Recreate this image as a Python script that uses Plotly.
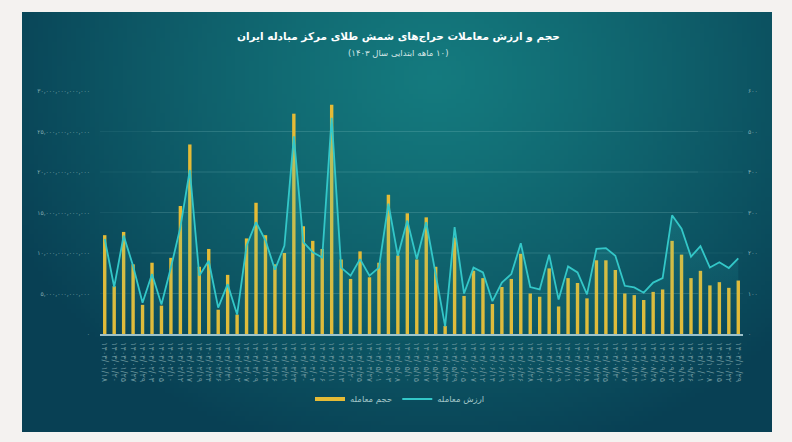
import base64, struct, zlib, math
import plotly.graph_objects as go

# ---------------- data ----------------
dates = [
    "1403/01/18", "1403/01/20", "1403/01/25", "1403/01/27", "1403/01/29",
    "1403/02/03", "1403/02/05", "1403/02/10", "1403/02/12", "1403/02/17",
    "1403/02/19", "1403/02/24", "1403/02/26", "1403/02/31",
    "1403/03/02", "1403/03/07", "1403/03/09", "1403/03/14", "1403/03/16",
    "1403/03/21", "1403/03/23", "1403/03/30",
    "1403/04/04", "1403/04/06", "1403/04/11", "1403/04/13", "1403/04/20",
    "1403/04/25", "1403/04/27",
    "1403/05/01", "1403/05/03", "1403/05/08", "1403/05/10", "1403/05/15",
    "1403/05/17", "1403/05/22", "1403/05/24", "1403/05/29",
    "1403/06/05", "1403/06/07", "1403/06/12", "1403/06/14", "1403/06/19",
    "1403/06/21", "1403/06/26", "1403/06/28",
    "1403/07/02", "1403/07/04", "1403/07/09", "1403/07/11", "1403/07/16",
    "1403/07/18", "1403/07/23", "1403/07/25", "1403/07/30",
    "1403/08/07", "1403/08/14", "1403/08/21", "1403/08/28",
    "1403/09/05", "1403/09/12", "1403/09/19", "1403/09/26",
    "1403/10/01", "1403/10/08", "1403/10/15", "1403/10/22", "1403/10/29",
]

# trading volume (حجم معامله), trillion rial
volume_trillion = [
    12.2, 5.9, 12.6, 8.6, 3.6, 8.8, 3.5, 9.4, 15.8, 23.4,
    8.3, 10.5, 3.0, 7.3, 2.4, 11.8, 16.2, 12.2, 8.6, 10.0,
    27.2, 13.3, 11.5, 10.5, 28.3, 9.2, 6.8, 10.2, 7.0, 8.8,
    17.2, 9.7, 14.9, 9.2, 14.4, 8.3, 1.0, 11.9, 4.7, 7.8,
    6.9, 3.7, 5.8, 6.8, 9.9, 5.0, 4.6, 8.1, 3.4, 6.9,
    6.3, 4.4, 9.1, 9.1, 7.9, 5.0, 4.8, 4.2, 5.2, 5.5,
    11.5, 9.8, 6.9, 7.8, 6.0, 6.4, 5.7, 6.6,
]

# trading value (ارزش معامله), right axis
value = [
    235, 116, 243, 168, 77, 148, 73, 164, 264, 405,
    144, 181, 65, 123, 48, 218, 276, 231, 159, 218,
    488, 227, 202, 189, 534, 164, 144, 185, 144, 164,
    322, 193, 280, 185, 276, 144, 19, 264, 100, 164,
    152, 81, 127, 148, 224, 116, 110, 196, 85, 167,
    152, 98, 210, 212, 193, 119, 115, 102, 127, 138,
    293, 260, 191, 217, 164, 177, 163, 187,
]

left_tickvals = [0, 5, 10, 15, 20, 25, 30]
left_ticktext = ["0", "5,000,000,000,000", "10,000,000,000,000", "15,000,000,000,000",
                 "20,000,000,000,000", "25,000,000,000,000", "30,000,000,000,000"]
right_tickvals = [0, 100, 200, 300, 400, 500, 600]

title_text = "حجم و ارزش معاملات حراج‌های شمش طلای مرکز مبادله ایران"
subtitle_text = "(۱۰ ماهه ابتدایی سال ۱۴۰۳)"
name_volume = "حجم معامله"
name_value = "ارزش معامله"

# ---------------- helpers ----------------
FA = str.maketrans("0123456789", "۰۱۲۳۴۵۶۷۸۹")
def fa(s):
    return str(s).translate(FA)

def rtl(s):
    return "\u202B" + s + "\u202C"

volume = [v * 1e12 for v in volume_trillion]
x_labels = [fa(d) for d in dates]

def gradient_png(w, h):
    c_center = (20, 122, 126)
    c_edge = (8, 64, 84)
    rows = []
    for j in range(h):
        row = bytearray([0])
        fy = j / (h - 1)
        for i in range(w):
            fx = i / (w - 1)
            d = math.sqrt(((fx - 0.55) / 0.62) ** 2 + ((fy - 0.15) / 0.95) ** 2)
            t = min(1.0, d) ** 1.2
            row += bytes(int(round(c_center[k] + (c_edge[k] - c_center[k]) * t)) for k in range(3))
        rows.append(bytes(row))
    raw = b"".join(rows)
    def chunk(tag, data):
        c = struct.pack(">I", len(data)) + tag + data
        return c + struct.pack(">I", zlib.crc32(tag + data) & 0xffffffff)
    png = b"\x89PNG\r\n\x1a\n" + chunk(b"IHDR", struct.pack(">IIBBBBB", w, h, 8, 2, 0, 0, 0)) \
        + chunk(b"IDAT", zlib.compress(raw, 9)) + chunk(b"IEND", b"")
    return "data:image/png;base64," + base64.b64encode(png).decode()

# ---------------- figure ----------------
W, H = 792, 442
ML, MR, MT, MB = 100, 49, 91, 108
pw, ph = W - ML - MR, H - MT - MB
def px_x(p):
    return (p - ML) / pw
def px_y(p):
    return (H - MB - p) / ph

FONT = "DejaVu Sans"
GOLD = "#e5bb36"
CYAN = "#33c7c8"

fig = go.Figure()

fig.add_trace(go.Bar(
    x=x_labels, y=volume, marker=dict(color=GOLD, line=dict(width=0)),
    width=0.36, showlegend=False, hoverinfo="skip", yaxis="y",
))
fig.add_trace(go.Scatter(
    x=x_labels, y=value, mode="lines", line=dict(width=0, color=CYAN),
    fill="tozeroy",
    fillgradient=dict(type="vertical",
                      colorscale=[[0, "rgba(51,199,200,0.02)"], [1, "rgba(51,199,200,0.30)"]]),
    showlegend=False, hoverinfo="skip", yaxis="y2",
))
fig.add_trace(go.Scatter(
    x=x_labels, y=value, mode="lines", line=dict(width=1.8, color=CYAN),
    name=name_value, showlegend=False, hoverinfo="skip", yaxis="y2",
))
# legend entries
fig.add_trace(go.Scatter(x=[None], y=[None], mode="lines", line=dict(width=4, color=GOLD),
                         name=name_volume, yaxis="y"))
fig.add_trace(go.Scatter(x=[None], y=[None], mode="lines", line=dict(width=1.8, color=CYAN),
                         name=name_value, yaxis="y2"))

# grid lines
shapes = []
for v in left_tickvals[1:-1]:
    shapes.append(dict(type="line", xref="paper", yref="y", x0=0.0, x1=1.0, y0=v * 1e12, y1=v * 1e12,
                       line=dict(color="rgba(170,220,225,0.07)", width=1), layer="below"))
    shapes.append(dict(type="line", xref="paper", yref="y", x0=0.08, x1=0.93, y0=v * 1e12, y1=v * 1e12,
                       line=dict(color="rgba(170,220,225,0.12)", width=1), layer="below"))

fig.update_layout(
    width=W, height=H,
    margin=dict(l=ML, r=MR, t=MT, b=MB),
    paper_bgcolor="#f4f2f0",
    plot_bgcolor="rgba(0,0,0,0)",
    font=dict(family=FONT, color="#9cc0c3"),
    bargap=0.6,
    shapes=shapes,
    images=[dict(source=gradient_png(160, 90), xref="paper", yref="paper",
                 x=px_x(22), y=px_y(12), sizex=750 / pw, sizey=420 / ph,
                 xanchor="left", yanchor="top", sizing="stretch", layer="below")],
    xaxis=dict(
        type="category", showgrid=False, zeroline=False,
        showline=True, linecolor="rgba(205,235,240,0.75)", linewidth=1.5,
        tickmode="linear", tick0=0, dtick=1,
        tickangle=90, tickfont=dict(size=8, color="#6a959d", family=FONT),
        ticks="", ticklabelstandoff=5,
    ),
    yaxis=dict(
        range=[0, 30e12], showgrid=False, zeroline=False, showline=False,
        tickvals=[v * 1e12 for v in left_tickvals], ticktext=[fa(t) for t in left_ticktext],
        tickfont=dict(size=6, color="#86aeb3", family=FONT), ticks="", ticklabelstandoff=9,
    ),
    yaxis2=dict(
        overlaying="y", side="right", range=[0, 600], showgrid=False, zeroline=False, showline=False,
        tickvals=right_tickvals, ticktext=[fa(t) for t in right_tickvals],
        tickfont=dict(size=6, color="#86aeb3", family=FONT), ticks="", ticklabelstandoff=4,
    ),
    legend=dict(
        orientation="h", x=px_x(400), y=px_y(399), xanchor="center", yanchor="middle",
        font=dict(size=8.5, color="#a2c6c8", family=FONT), bgcolor="rgba(0,0,0,0)",
        itemwidth=30, traceorder="normal",
    ),
    annotations=[
        dict(text="<b>" + title_text + "</b>", xref="paper", yref="paper",
             x=px_x(398), y=px_y(37), xanchor="center", yanchor="middle", showarrow=False,
             font=dict(size=10.5, color="#ffffff", family=FONT)),
        dict(text=rtl(subtitle_text), xref="paper", yref="paper",
             x=px_x(398), y=px_y(53), xanchor="center", yanchor="middle", showarrow=False,
             font=dict(size=8.5, color="#d3e6e6", family=FONT)),
    ],
)

fig.write_html("out.html")
